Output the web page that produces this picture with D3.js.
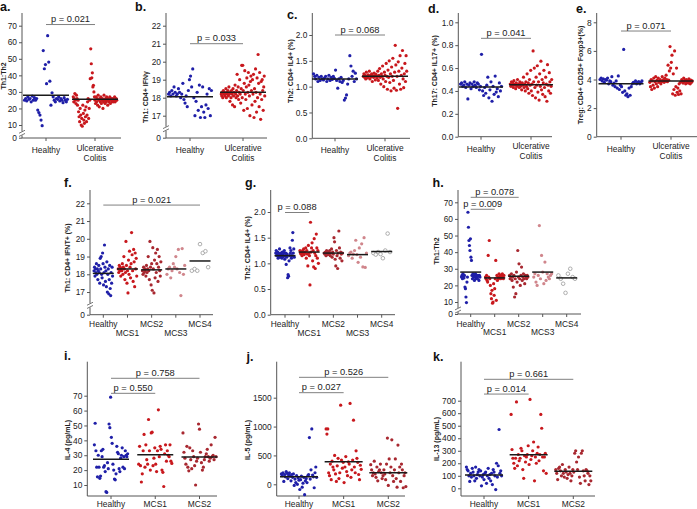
<!DOCTYPE html>
<html><head><meta charset="utf-8">
<script src="https://cdn.jsdelivr.net/npm/d3@7"></script>
<style>body{margin:0;background:#fff} svg{display:block}</style>
</head><body><svg id="c" width="697" height="509"></svg>
<script>
// ---------------- DATA ----------------
const catsUC = ["Healthy", "Ulcerative Colitis"];
const catsMCS = ["Healthy", "MCS1", "MCS2", "MCS3", "MCS4"];
const catsCyt = ["Healthy", "MCS1", "MCS2"];

// a. Th1:Th2
const aHealthy = [25,26,24.5,27,25.5,26,24,27.5,25,26.5,25,26,19,17.5,16,13,9.5,55,44,46.5,35,64,48,36.5,22,29.5,27,25,24,26,25.5,27,24.5,26,25,23.5,26.5,25,24,25.5];
const aUC = [27,24,26,29,25,23,28,26,22,25,18,15,12,20,16,10,14,9,22,17,13,11,19,15,21,12,16,24,26,14,20,25,38,56,47,38.5,41.5,33,34,30,27,25,23,27,24,26,22,28,25,21,26,24,27,23,25,26,20,24,28,25,23,26,24,27,25,22,26,24,25,27,23,25,26,24,25,26,24,25,27,24,25,26,25];
const aMeans = [28, 25.5];
const aP = [{from: 0, to: 1, level: 70.7, text: "p = 0.021"}];

// b. Th1: CD4+ IFNγ
const bHealthy = [18.2,18.3,18.1,18.4,18.2,18.6,18.3,18.1,18.2,18.5,18.3,18.0,18.2,18.8,17.9,17.7,18.1,17.5,18.4,19.0,19.2,18.6,19.6,18.0,17.0,17.8,18.3,17.3,18.7,16.9,17.5,18.6,17.2,16.9,17.6,18.2,17.4,18.5,17.0,18.4];
const bUC = [18.2,18.1,18.3,18.0,18.4,18.2,18.3,18.1,18.2,18.5,18.0,18.3,18.2,18.4,18.1,18.6,18.2,17.8,18.3,18.0,18.4,18.2,17.6,18.5,18.1,18.3,17.5,18.7,18.2,18.0,18.4,19.3,18.1,18.6,17.9,18.3,19.0,18.2,17.7,18.5,19.8,18.0,19.8,18.4,17.3,18.8,19.5,18.2,17.9,18.6,19.1,17.4,18.3,19.4,18.7,18.1,17.0,18.9,19.2,18.4,17.6,19.0,18.2,19.3,16.9,18.5,17.8,19.6,18.3,17.2,19.1,18.0,20.4,18.8,17.5,19.4,18.2,16.8,18.9,17.9,19.0,18.4,17.3,18.6,19.2,18.1];
const bMeans = [18.05, 18.3];
const bP = [{from: 0, to: 1, level: 21.0, text: "p = 0.033"}];

// c. Th2: CD4+ IL4+ (%)
const cHealthy = [1.25,1.2,1.15,1.22,1.1,1.18,1.12,1.2,1.15,1.13,1.17,1.2,1.1,1.15,1.22,1.12,1.18,1.14,1.2,1.16,1.32,1.12,0.97,1.15,1.1,1.18,1.08,1.12,0.74,0.78,0.84,1.05,1.15,1.6,1.4,1.2,1.3,1.1,1.26,1.15];
const cUC = [1.2,1.25,1.18,1.22,1.15,1.28,1.2,1.17,1.23,1.2,1.3,1.15,1.22,1.19,1.25,1.1,1.21,1.18,1.26,1.2,1.13,1.24,1.2,1.17,1.3,1.12,1.22,1.35,1.18,1.05,1.25,1.2,1.4,1.15,1.0,1.28,1.22,1.1,1.45,1.2,0.95,1.32,1.18,1.5,1.08,1.25,0.92,1.38,1.2,1.55,1.12,0.97,1.28,1.8,1.42,0.93,1.2,0.58,1.48,1.3,1.05,1.6,0.95,1.22,1.36,1.7,1.15,0.98,1.25,1.45,1.1,1.6,1.3];
const cMeans = [1.15, 1.2];
const cP = [{from: 0, to: 1, level: 2.0, text: "p = 0.068"}];

// d. Th17: CD4+ IL17+ (%)
const dHealthy = [0.46,0.47,0.44,0.45,0.48,0.43,0.46,0.33,0.45,0.47,0.42,0.46,0.44,0.48,0.45,0.43,0.47,0.46,0.41,0.44,0.72,0.40,0.36,0.43,0.38,0.45,0.52,0.34,0.41,0.48,0.31,0.44,0.37,0.53,0.39,0.42,0.35,0.47,0.40,0.44];
const dUC = [0.46,0.44,0.48,0.45,0.47,0.43,0.49,0.45,0.46,0.42,0.47,0.44,0.5,0.45,0.46,0.43,0.48,0.44,0.46,0.41,0.47,0.45,0.52,0.43,0.46,0.4,0.48,0.44,0.55,0.42,0.47,0.38,0.5,0.45,0.58,0.4,0.46,0.36,0.75,0.48,0.6,0.43,0.34,0.52,0.45,0.62,0.39,0.48,0.32,0.55,0.44,0.66,0.41,0.5,0.37,0.47,0.58,0.43,0.35,0.52,0.46,0.31,0.63,0.45,0.4,0.56,0.48,0.38,0.44,0.5];
const dMeans = [0.435, 0.455];
const dP = [{from: 0, to: 1, level: 0.86, text: "p = 0.041"}];

// e. Treg: CD4+ CD25+ Foxp3+(%)
const eHealthy = [4.0,4.1,3.9,4.05,3.8,4.0,3.95,4.1,3.7,3.9,3.85,4.2,3.6,3.75,3.5,3.9,3.4,4.25,3.3,3.6,3.5,3.1,6.1,3.2,2.9,3.0,2.8,3.4,2.9,3.5,3.7,3.8,3.75,3.9,3.7,3.8,3.85,3.7,3.8,3.9];
const eUC = [3.8,3.5,4.0,3.3,3.9,3.6,4.1,3.4,3.85,4.2,3.7,3.95,3.5,4.1,3.8,3.9,4.0,3.7,3.85,4.2,3.9,4.0,3.8,4.1,3.9,4.3,4.0,3.85,5.0,3.95,4.6,6.3,4.8,5.2,5.7,3.0,4.4,3.3,6.0,2.9,3.5,4.8,3.1,3.4,2.95,3.7,3.2,3.8,3.0,4.0,3.9,3.75,4.1,3.85,3.95,3.7,4.0,3.8,3.9,3.75,4.05,3.85,3.7,3.95,3.8,3.9];
const eMeans = [3.7, 3.9];
const eP = [{from: 0, to: 1, level: 7.39, text: "p = 0.071"}];

// f. Th1: CD4+ IFNT+ (%) by MCS
const fHealthy = [18.2,18.4,17.9,18.3,18.1,18.6,18.0,18.3,17.7,18.2,18.5,18.1,17.5,18.9,18.3,19.0,18.0,17.8,19.2,18.6,17.4,18.1,19.65,18.4,17.6,18.2,17.3,18.7,17.0,18.0,18.3,16.9,17.7,18.5,17.2,16.8,18.1,17.5,18.4,17.9];
const fMCS1 = [18.3,18.1,18.5,18.2,18.4,17.9,18.3,18.2,18.6,18.0,18.4,19.0,18.3,17.7,18.1,19.85,18.5,17.5,18.2,16.95,18.8,18.0,19.3,18.4,17.8,18.6,20.35,19.1,18.2,17.6,19.4,18.7,17.3,19.2,18.3,18.9,17.9];
const fMCS2 = [18.2,18.0,18.4,18.1,18.3,18.2,17.9,18.5,18.1,18.3,19.0,18.2,17.7,19.85,18.4,17.4,18.6,17.1,19.5,18.3,16.95,18.8,17.8,19.2,18.1,18.6,19.4,17.6,18.4,19.0,18.2,17.9,18.7];
const fMCS3 = [18.0,18.3,18.4,17.8,18.2,18.6,18.4,19.0,18.3,19.4,18.1,16.8,19.45,18.0,18.5];
const fMCS4 = [18.2,18.3,18.2,19.7,19.2,19.3,18.4];
const fMeans = [18.05, 18.3, 18.25, 18.3, 18.75];
const fP = [{from: 0, to: 4, level: 21.9, text: "p = 0.021"}];

// g. Th2: CD4+ IL4+ (%) by MCS
const gHealthy = [1.2,1.25,1.15,1.18,1.22,1.1,1.2,1.15,1.28,1.12,1.18,1.2,1.15,1.1,1.22,1.17,1.13,1.2,1.25,1.08,1.15,1.2,0.98,1.12,1.18,0.72,0.78,0.75,1.05,1.15,1.3,1.2,1.25,1.1,1.15,1.45,1.6,1.2,1.28,1.12];
const gMCS1 = [1.25,1.2,1.18,1.22,1.15,1.25,1.2,1.28,1.17,1.22,1.2,1.3,1.1,1.25,1.18,0.95,1.35,1.2,1.15,0.58,1.8,1.22,1.3,1.4,1.05,1.25,0.93,1.48,1.2,0.9,1.15,1.57,1.3,1.1,1.25,1.0];
const gMCS2 = [1.2,1.18,1.22,1.15,1.25,1.2,1.17,1.22,1.19,1.25,1.15,1.2,1.28,1.12,1.22,1.18,1.5,1.42,1.08,0.95,1.25,1.15,0.9,1.2,1.63,1.3,1.1,1.22,1.18,1.05,1.2];
const gMCS3 = [1.15,1.2,1.22,1.1,1.18,1.25,1.45,1.17,1.02,1.3,1.12,1.38,0.93,1.5,0.92,1.2];
const gMCS4 = [1.2,1.17,1.22,1.18,1.1,1.25,1.58,1.22];
const gMeans = [1.15, 1.22, 1.2, 1.17, 1.23];
const gP = [{from: 0, to: 1, level: 1.99, text: "p = 0.088"}];

// h. Th1:Th2 by MCS
const hHealthy = [25,26,24,27,25.5,24.5,26,19,18,13,9.5,22,25,64,55,47,44,41,48,37,35,26,24,27,25,26,23,25,27,24,26,25,24,26,25.5,23,26,25];
const hMCS1 = [25,24,26,23,22,38,25,47,24,20,15,12,17,9,10,21,14,18,24,35,11,26,23,25,24,27,25,26,24,25,26,27,25,24,26];
const hMCS2 = [26,24,25,27,23,25,19,26,13,24,15,28,22,41,25,33,24,20,26,31,23,25,27,24,21,26,25,24,26,25];
const hMCS3 = [25,27,22,20,26,56,24,38,28,21,34,23,27,25,24,26,27];
const hMCS4 = [26,24,21,15.5,27,30,25,24];
const hMeans = [28, 24.5, 25.5, 28, 24.5];
const hP = [{from: 0, to: 2, level: 73, text: "p = 0.078"}, {from: 0, to: 1, level: 65.8, text: "p = 0.009"}];

// i. IL-4 (pg/mL)
const iHealthy = [37,51.5,33,22,15.5,30,22,14.5,16,33,29,34,22,23,19,5.5,5,25,21,51,48.5,69,42,38,24,20,14,13.5,17.5,36,32,31,21,19,28,30,35,22,29,21,33,30,29,31];
const iMCS1 = [24,36,23,12,17.5,33,44,22,37,27,24,54,33,20,45,45.5,23,28,35,24,19,33,60.5,29,36,34,20,18.5,9,31,37,26,33,30,29,37,26,24.5];
const iMCS2 = [45,32,28,24,36,22,19.5,35,27,21,33,29,23,10,26,28,51,47.5,32,25,20,22,27,29,31,34,29,26,28,37,29,30,27,42,29];
const iMeans = [27.3, 30.3, 28.8];
const iP = [{from: 0, to: 2, level: 81.7, text: "p = 0.758"}, {from: 0, to: 1, level: 71.6, text: "p = 0.550"}];

// j. IL-5 (pg/mL)
const jHealthy = [180,150,200,50,170,130,220,190,100,160,200,140,60,170,120,180,-20,90,30,150,0,110,70,-90,80,140,-50,20,120,-180,60,100,30,150,170,810,90,250,960,160,130,-60,200,300,120];
const jMCS1 = [960,870,960,200,150,350,80,400,300,250,500,180,50,320,450,100,200,1370,420,280,380,30,300,480,220,150,390,350,1400,120,250,420,1110,300,200,580,450,380,170,80,330,260];
const jMCS2 = [340,250,150,200,400,180,120,300,60,220,250,350,200,100,150,250,180,80,350,800,-20,440,200,300,770,150,50,250,440,100,-50,680,200,300,50,350,250,-60,150,200,-40];
const jMeans = [131, 390, 200];
const jP = [{from: 0, to: 2, level: 1853, text: "p = 0.526"}, {from: 0, to: 1, level: 1587, text: "p = 0.027"}];

// k. IL-13 (pg/mL)
const kHealthy = [170,150,140,100,55,120,90,160,130,100,60,170,80,110,130,150,100,140,20,90,110,70,120,130,40,100,160,80,110,60,120,30,150,130,100,-10,200,90,180,470,120,140,100];
const kMCS1 = [590,310,240,200,160,240,690,180,270,220,240,320,300,150,80,260,210,250,270,340,190,710,230,260,300,370,60,250,200,280,330,220,270,590,480,250,140,250,280,120];
const kMCS2 = [150,120,70,160,170,140,100,190,120,90,150,130,80,110,170,120,60,100,150,130,280,300,210,150,250,90,40,280,300,140,100,60,150,140,120,30,100,60];
const kMeans = [106, 269, 136];
const kP = [{from: 0, to: 2, level: 871, text: "p = 0.661"}, {from: 0, to: 1, level: 753, text: "p = 0.014"}];

// ---------------- DRAWING ----------------
const FONT = '"Liberation Sans", Arial, Helvetica, sans-serif';
const C_H = "#1f1fa8", C_R = "#c8181d", C_R2 = "#a82830", C_R3 = "#d0868c", C_O = "#9a9a9a";
const AX = "#555";
const svg = d3.select("#c");

function drawPanel(o) {
  const g = svg.append("g");
  const y = d3.scaleLinear().domain(o.yDomain).range(o.yRange);
  const x = d3.scalePoint().domain(o.cats).range(o.xRange);

  // y axis
  const ga = g.append("g").attr("transform", `translate(${o.ax},0)`)
    .call(d3.axisLeft(y).tickValues(o.ticks).tickSize(3).tickPadding(2).tickFormat(o.fmt));
  ga.select(".domain").remove();
  ga.selectAll("line").attr("stroke", AX);
  ga.selectAll("text").attr("font-size", 8.4).attr("fill", "#222").attr("font-family", FONT);
  g.append("line").attr("x1", o.ax).attr("x2", o.ax).attr("y1", o.yTop).attr("y2", o.yBottom).attr("stroke", AX);
  g.append("line").attr("x1", o.ax).attr("x2", o.xEnd).attr("y1", o.yBottom).attr("y2", o.yBottom).attr("stroke", AX);
  g.selectAll(".xt").data(o.cats).join("line")
    .attr("x1", d => x(d)).attr("x2", d => x(d))
    .attr("y1", o.yBottom).attr("y2", o.yBottom + 3).attr("stroke", AX);

  // axis break
  if (o.brk) {
    const yb = (y(o.ticks[0]) + y(o.ticks[1])) / 2 + 2;
    g.append("rect").attr("x", o.ax - 1).attr("y", yb - 2).attr("width", 2).attr("height", 4).attr("fill", "#fff");
    [-1.6, 1.6].forEach(dy => g.append("line")
      .attr("x1", o.ax - 3).attr("y1", yb + dy + 1.5).attr("x2", o.ax + 3).attr("y2", yb + dy - 1.5)
      .attr("stroke", AX).attr("stroke-width", 0.8));
  }

  // points
  o.groups.forEach((vals, gi) => {
    const cx = x(o.cats[gi]);
    const n = vals.length;
    const sty = o.styles[gi];
    g.append("g").selectAll("circle").data(vals).join("circle")
      .attr("cx", (d, j) => cx - o.spread / 2 + (j + 0.5) / n * o.spread)
      .attr("cy", d => y(d))
      .attr("r", sty.open ? 1.8 : 1.6)
      .attr("fill", sty.open ? "#fff" : sty.color)
      .attr("stroke", sty.open ? sty.color : "none")
      .attr("stroke-width", 0.8);
  });

  // mean lines
  g.selectAll(".mean").data(o.means).join("line")
    .attr("x1", (d, i) => x(o.cats[i]) - o.spread / 2 - 1)
    .attr("x2", (d, i) => x(o.cats[i]) + o.spread / 2 + 1)
    .attr("y1", d => y(d)).attr("y2", d => y(d))
    .attr("stroke", "#1a1a1a").attr("stroke-width", 1.5);

  // p-value brackets
  o.p.forEach(p => {
    const x1 = x(o.cats[p.from]), x2 = x(o.cats[p.to]), yy = y(p.level);
    g.append("line").attr("x1", x1).attr("x2", x2).attr("y1", yy).attr("y2", yy)
      .attr("stroke", "#808080").attr("stroke-width", 1);
    g.append("text").attr("x", (x1 + x2) / 2).attr("y", yy - 2.5).attr("text-anchor", "middle")
      .attr("font-family", FONT).attr("font-size", 9.3).attr("fill", "#222").text(p.text);
  });

  // category labels
  o.cats.forEach((c, i) => {
    const t = g.append("text").attr("text-anchor", "middle").attr("font-family", FONT)
      .attr("font-size", 8.4).attr("fill", "#222");
    if (c === "Ulcerative Colitis") {
      t.append("tspan").attr("x", x(c)).attr("y", o.yBottom + 12.5).text("Ulcerative");
      t.append("tspan").attr("x", x(c)).attr("y", o.yBottom + 22.5).text("Colitis");
    } else {
      const dy = o.stagger ? (i % 2 ? 21 : 12.5) : o.labelDy;
      t.attr("x", x(c)).attr("y", o.yBottom + dy).text(c);
    }
  });

  // y label
  g.append("text").attr("transform", `translate(${o.lx},${o.ly}) rotate(-90)`)
    .attr("text-anchor", "middle").attr("font-family", FONT).attr("font-size", 7)
    .attr("font-weight", "bold").attr("fill", "#222").text(o.ylabel);

  // panel letter
  g.append("text").attr("x", o.lt[0]).attr("y", o.lt[1]).attr("font-family", FONT)
    .attr("font-size", 12.5).attr("font-weight", "bold").attr("fill", "#111").text(o.letter);
}

const f1 = d3.format(".1f"), fd = d3.format("d");
const twoStyles = [{color: C_H}, {color: C_R}];
const fiveStyles = [{color: C_H}, {color: C_R}, {color: C_R2}, {color: C_R3}, {color: C_O, open: true}];
const threeStyles = [{color: C_H}, {color: C_R}, {color: C_R2}];

drawPanel({letter: "a.", lt: [0, 10.5], ax: 22, yTop: 13, yBottom: 138, xEnd: 121,
  yDomain: [0, 10, 70], yRange: [137.7, 125, 25.7], ticks: [0, 10, 20, 30, 40, 50, 60, 70], fmt: fd, brk: true,
  cats: catsUC, xRange: [46, 95], spread: 44, groups: [aHealthy, aUC], styles: twoStyles, means: aMeans, p: aP,
  ylabel: "Th1:Th2", lx: 6, ly: 76, labelDy: 15});

drawPanel({letter: "b.", lt: [135, 10.5], ax: 166, yTop: 13, yBottom: 138, xEnd: 267,
  yDomain: [0, 16.5, 22], yRange: [137.7, 124.7, 25.7], ticks: [0, 17, 18, 19, 20, 21, 22], fmt: fd, brk: true,
  cats: catsUC, xRange: [190, 243], spread: 44, groups: [bHealthy, bUC], styles: twoStyles, means: bMeans, p: bP,
  ylabel: "Th1: CD4+ IFNγ", lx: 148, ly: 97, labelDy: 15});

drawPanel({letter: "c.", lt: [287, 18.5], ax: 312.3, yTop: 13, yBottom: 138.3, xEnd: 410,
  yDomain: [0, 2.0], yRange: [138.3, 35], ticks: [0, 0.5, 1.0, 1.5, 2.0], fmt: f1,
  cats: catsUC, xRange: [335, 385], spread: 44, groups: [cHealthy, cUC], styles: twoStyles, means: cMeans, p: cP,
  ylabel: "Th2: CD4+ IL4+ (%)", lx: 293, ly: 71, labelDy: 15});

drawPanel({letter: "d.", lt: [428, 13], ax: 458.3, yTop: 13, yBottom: 136.7, xEnd: 552,
  yDomain: [0, 1.0], yRange: [136.7, 22.3], ticks: [0, 0.2, 0.4, 0.6, 0.8, 1.0], fmt: f1,
  cats: catsUC, xRange: [481, 531], spread: 42, groups: [dHealthy, dUC], styles: twoStyles, means: dMeans, p: dP,
  ylabel: "Th17: CD4+ IL17+ (%)", lx: 437, ly: 71, labelDy: 15});

drawPanel({letter: "e.", lt: [576, 13], ax: 596.7, yTop: 13, yBottom: 136.7, xEnd: 697,
  yDomain: [0, 8], yRange: [136.7, 22.3], ticks: [0, 2, 4, 6, 8], fmt: fd,
  cats: catsUC, xRange: [621, 671], spread: 43, groups: [eHealthy, eUC], styles: twoStyles, means: eMeans, p: eP,
  ylabel: "Treg: CD4+ CD25+ Foxp3+(%)", lx: 583, ly: 75, labelDy: 15});

drawPanel({letter: "f.", lt: [64, 186.5], ax: 90, yTop: 190, yBottom: 314.7, xEnd: 213,
  yDomain: [0, 16.5, 22], yRange: [314.7, 300.9, 203.3], ticks: [0, 17, 18, 19, 20, 21, 22], fmt: fd, brk: true,
  cats: catsMCS, xRange: [103.3, 200], spread: 19, groups: [fHealthy, fMCS1, fMCS2, fMCS3, fMCS4], styles: fiveStyles,
  means: fMeans, p: fP, stagger: true, ylabel: "Th1: CD4+ IFNT+ (%)", lx: 70, ly: 258});

drawPanel({letter: "g.", lt: [245, 186.5], ax: 270.7, yTop: 190, yBottom: 314.7, xEnd: 395,
  yDomain: [0, 2.0], yRange: [314.7, 212], ticks: [0, 0.5, 1.0, 1.5, 2.0], fmt: f1,
  cats: catsMCS, xRange: [285, 381.7], spread: 19, groups: [gHealthy, gMCS1, gMCS2, gMCS3, gMCS4], styles: fiveStyles,
  means: gMeans, p: gP, stagger: true, ylabel: "Th2: CD4+ IL4+ (%)", lx: 250, ly: 248});

drawPanel({letter: "h.", lt: [432.5, 186.5], ax: 458, yTop: 190, yBottom: 314, xEnd: 581,
  yDomain: [0, 10, 70], yRange: [314, 302, 202.3], ticks: [0, 10, 20, 30, 40, 50, 60, 70], fmt: fd, brk: true,
  cats: catsMCS, xRange: [470.7, 566.7], spread: 19, groups: [hHealthy, hMCS1, hMCS2, hMCS3, hMCS4], styles: fiveStyles,
  means: hMeans, p: hP, stagger: true, ylabel: "Th1:Th2", lx: 439, ly: 251});

drawPanel({letter: "i.", lt: [64, 360], ax: 87.3, yTop: 361.7, yBottom: 496, xEnd: 217,
  yDomain: [10, 70], yRange: [485, 395.7], ticks: [10, 20, 30, 40, 50, 60, 70], fmt: fd,
  cats: catsCyt, xRange: [111, 199.5], spread: 34, groups: [iHealthy, iMCS1, iMCS2], styles: threeStyles,
  means: iMeans, p: iP, labelDy: 10.5, ylabel: "IL-4 (pg/mL)", lx: 70, ly: 440});

drawPanel({letter: "j.", lt: [246.5, 360.5], ax: 276.7, yTop: 361.7, yBottom: 496, xEnd: 405,
  yDomain: [0, 1500], yRange: [484.3, 397.7], ticks: [0, 500, 1000, 1500], fmt: fd,
  cats: catsCyt, xRange: [299, 388.3], spread: 36, groups: [jHealthy, jMCS1, jMCS2], styles: threeStyles,
  means: jMeans, p: jP, labelDy: 10.5, ylabel: "IL-5 (pg/mL)", lx: 250, ly: 440});

drawPanel({letter: "k.", lt: [433, 360.5], ax: 461, yTop: 361.7, yBottom: 496, xEnd: 595,
  yDomain: [0, 700], yRange: [488.3, 400.7], ticks: [0, 100, 200, 300, 400, 500, 600, 700], fmt: fd,
  cats: catsCyt, xRange: [484, 573.3], spread: 36, groups: [kHealthy, kMCS1, kMCS2], styles: threeStyles,
  means: kMeans, p: kP, labelDy: 10.5, ylabel: "IL-13 (pg/mL)", lx: 439, ly: 439});
</script>
</body></html>
